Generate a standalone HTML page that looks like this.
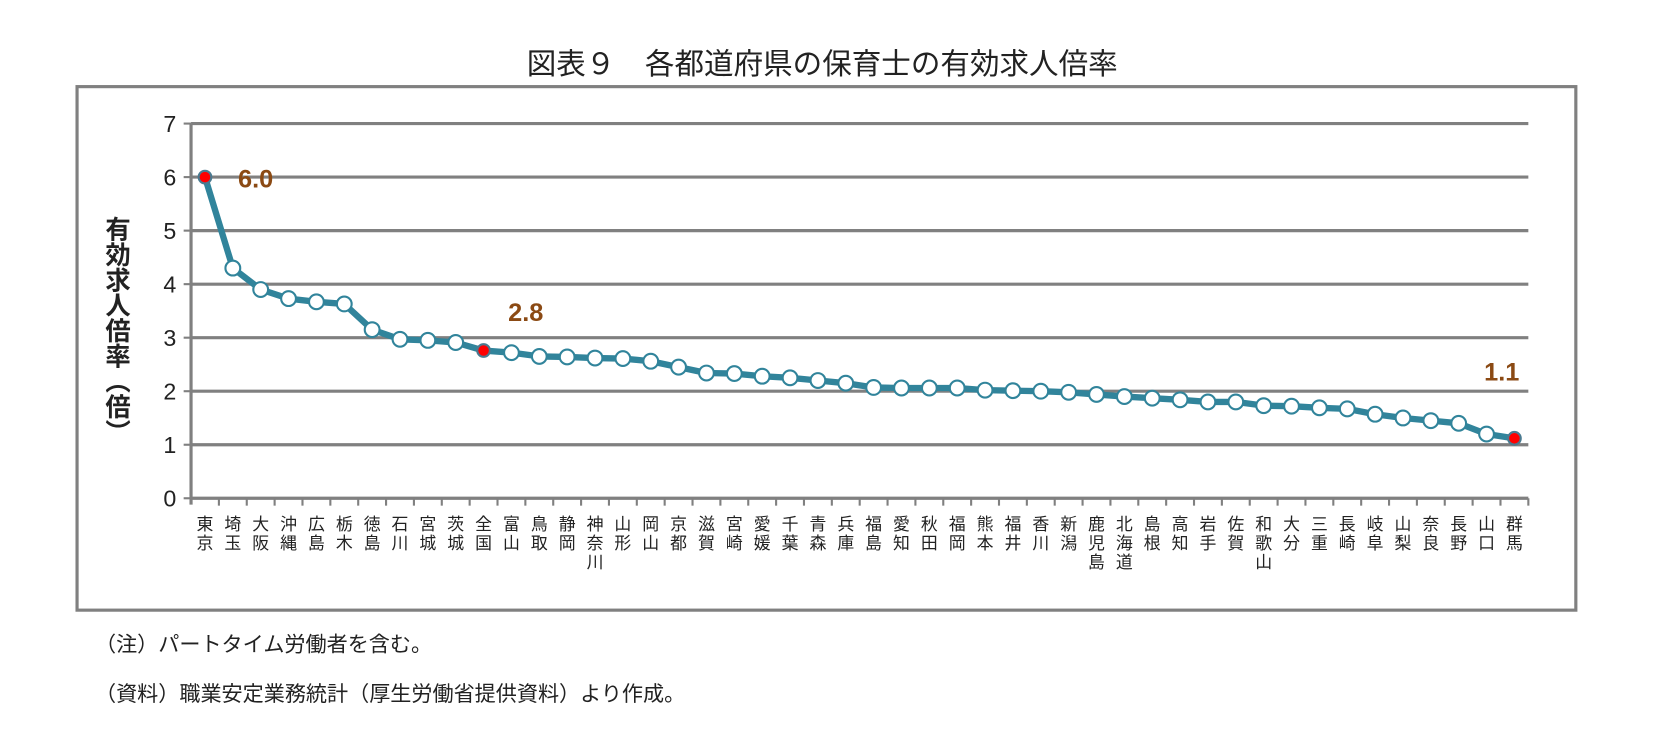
<!DOCTYPE html>
<html><head><meta charset="utf-8"><style>
body{margin:0;background:#fff;width:1655px;height:739px;overflow:hidden;font-family:"Liberation Sans","Noto Sans CJK JP",sans-serif}
</style></head><body>
<svg width="1655" height="739" viewBox="0 0 1568 700" xmlns="http://www.w3.org/2000/svg" font-family="Liberation Sans, Noto Sans CJK JP, sans-serif">
<text x="779" y="70" font-size="28" text-anchor="middle" fill="#222">図表９　各都道府県の保育士の有効求人倍率</text>
<rect x="73" y="82" width="1420" height="496" fill="none" stroke="#808080" stroke-width="3"/>
<g id="grid"></g><g id="xl"></g><g id="series"></g>
<text x="110" y="313" font-size="24" font-weight="bold" fill="#222" style="writing-mode:vertical-rl" text-anchor="middle">有効求人倍率（倍）</text>
<text x="90" y="617" font-size="20" fill="#222">（注）パートタイム労働者を含む。</text>
<text x="90" y="664" font-size="20" fill="#222">（資料）職業安定業務統計（厚生労働省提供資料）より作成。</text>
</svg>
<script>
const categories=["東京","埼玉","大阪","沖縄","広島","栃木","徳島","石川","宮城","茨城","全国","富山","鳥取","静岡","神奈川","山形","岡山","京都","滋賀","宮崎","愛媛","千葉","青森","兵庫","福島","愛知","秋田","福岡","熊本","福井","香川","新潟","鹿児島","北海道","島根","高知","岩手","佐賀","和歌山","大分","三重","長崎","岐阜","山梨","奈良","長野","山口","群馬"];
const values=[6.0,4.3,3.9,3.73,3.67,3.63,3.15,2.97,2.95,2.91,2.76,2.72,2.65,2.64,2.62,2.61,2.56,2.45,2.34,2.33,2.28,2.25,2.2,2.15,2.07,2.06,2.06,2.06,2.02,2.01,2.0,1.98,1.94,1.9,1.87,1.84,1.8,1.8,1.73,1.72,1.69,1.67,1.57,1.5,1.45,1.4,1.2,1.12];
const highlighted=["東京","全国","群馬"];
const yTicks=[0,1,2,3,4,5,6,7];
const NS="http://www.w3.org/2000/svg";
const x0=181,x1=1448,y0=472,y7=117;
const step=(x1-x0)/categories.length;
const xs=i=>x0+step*(i+0.5);
const ys=v=>y0-(y0-y7)*v/7;
function mk(t,a,p){const e=document.createElementNS(NS,t);for(const k in a)e.setAttribute(k,a[k]);p.appendChild(e);return e;}
const grid=document.getElementById('grid');
yTicks.forEach(v=>{
 const l=mk('line',{x1:x0,x2:x1,y1:ys(v),y2:ys(v),stroke:'#808080','stroke-width':3},grid);
 
 
 mk('line',{x1:x0-7,x2:x0,y1:ys(v),y2:ys(v),stroke:'#808080','stroke-width':2},grid);
 const t=mk('text',{x:x0-14,y:ys(v)+8,'font-size':22,'text-anchor':'end',fill:'#222'},grid);
 t.textContent=v;
 
 
});
const ax=mk('line',{x1:x0,x2:x0,y1:y7,y2:y0+6,stroke:'#808080','stroke-width':3},grid);


const xl=document.getElementById('xl');
categories.forEach((c,i)=>{
 mk('line',{x1:x0+step*(i+1),x2:x0+step*(i+1),y1:y0,y2:y0+7,stroke:'#808080','stroke-width':2},xl);
 const t=mk('text',{x:xs(i),'font-size':16,'text-anchor':'middle',fill:'#222'},xl);
 
 
 [...c].forEach((ch,k)=>{const s=mk('tspan',{x:xs(i),y:y0+30+k*18},t);s.textContent=ch;});
});
const g=document.getElementById('series');
const pl=mk('polyline',{points:values.map((v,i)=>xs(i)+','+ys(v)).join(' '),fill:'none',stroke:'#31849b','stroke-width':6,'stroke-linejoin':'round'},g);


values.forEach((v,i)=>{
 const hi=highlighted.includes(categories[i]);
 const c=mk('circle',{cx:xs(i),cy:ys(v),r:hi?6:7,fill:hi?'#ff0000':'#fff',stroke:hi?'#4a7a90':'#31849b','stroke-width':2},g);
 
 
 if(hi){
  let lx=xs(i),ly=ys(v);
  if(i==0){lx+=48;ly+=10;}else if(i==categories.length-1){lx-=12;ly-=55;}else{lx+=40;ly-=28;}
  const t=mk('text',{x:lx,y:ly,'font-size':24,'font-weight':'bold','text-anchor':'middle',fill:'#8b4a14'},g);
  t.textContent=v.toFixed(1);
  
  
 }
});
</script>
</body></html>
